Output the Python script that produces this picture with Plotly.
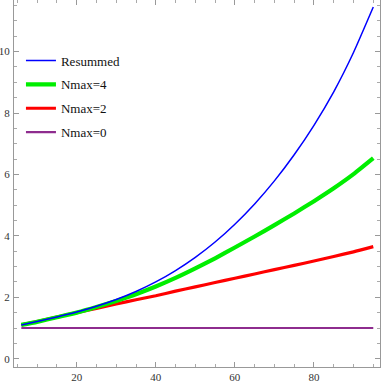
import plotly.graph_objects as go

# values
x_pts = [6, 10, 15, 20, 25, 30, 35, 40, 45, 50, 55, 60, 65, 70, 75, 80, 85, 90, 95]
resummed = [1.10, 1.21, 1.36, 1.52, 1.71, 1.93, 2.19, 2.50, 2.87, 3.30, 3.80, 4.38, 5.04, 5.79, 6.64, 7.60, 8.69, 9.97, 11.45]
nmax4 = [1.10, 1.20, 1.35, 1.50, 1.68, 1.88, 2.10, 2.35, 2.63, 2.94, 3.27, 3.62, 3.98, 4.35, 4.73, 5.13, 5.55, 6.01, 6.53]
nmax2 = [1.10, 1.21, 1.36, 1.50, 1.64, 1.78, 1.92, 2.05, 2.20, 2.34, 2.48, 2.62, 2.76, 2.90, 3.04, 3.18, 3.33, 3.48, 3.65]
nmax0 = [1.0] * len(x_pts)

series = [
	('Nmax=0', nmax0, '#8e2c8e', 2.2, 4),
	('Nmax=2', nmax2, '#ff0000', 3.2, 3),
	('Nmax=4', nmax4, '#00ee00', 4.2, 2),
	('Resummed', resummed, '#0000ff', 1.5, 1),
]

fig = go.Figure()
for name, vals, col, w, rank in series:
	fig.add_trace(go.Scatter(
		x = x_pts, y = vals, name = name, mode = 'lines',
		line = dict(color = col, width = w, shape = 'spline', smoothing = 0.5),
		legendrank = rank, legendgroup = name,
		))

serif = 'Liberation Serif, Times New Roman, DejaVu Serif, serif'

axis_style = dict(
	showgrid = False, zeroline = False, automargin = False,
	showline = True, linecolor = '#999999', linewidth = 1, mirror = 'ticks',
	ticks = 'inside', ticklen = 5, tickcolor = '#999999', tickwidth = 1,
	tickfont = dict(family = serif, size = 11, color = '#333333'),
	)

fig.update_xaxes(
	range = [4.15, 96.7], tickvals = [20, 40, 60, 80], ticklabelstandoff = 0,
	minor = dict(dtick = 5, tick0 = 0, ticks = 'inside', ticklen = 3, tickcolor = '#aaaaaa'),
	**axis_style)
fig.update_yaxes(
	range = [-0.27, 11.68], tickvals = [0, 2, 4, 6, 8, 10], ticklabelstandoff = 1,
	minor = dict(dtick = 0.5, tick0 = 0, ticks = 'inside', ticklen = 3, tickcolor = '#aaaaaa'),
	**axis_style)

fig.update_layout(
	width = 382, height = 382,
	margin = dict(l = 14, r = 2, t = 0, b = 15, autoexpand = False),
	plot_bgcolor = 'white', paper_bgcolor = 'white',
	legend = dict(
		x = 0.019, y = 0.876, xanchor = 'left', yanchor = 'top',
		bgcolor = 'rgba(0,0,0,0)', tracegroupgap = 4,
		font = dict(family = serif, size = 13, color = '#111111'),
		),
	)

# page body has a default margin, drop it so the figure sits at the corner
fig.write_html('out.html', config = {'displayModeBar': False},
	post_script = "document.body.style.margin='0';")
